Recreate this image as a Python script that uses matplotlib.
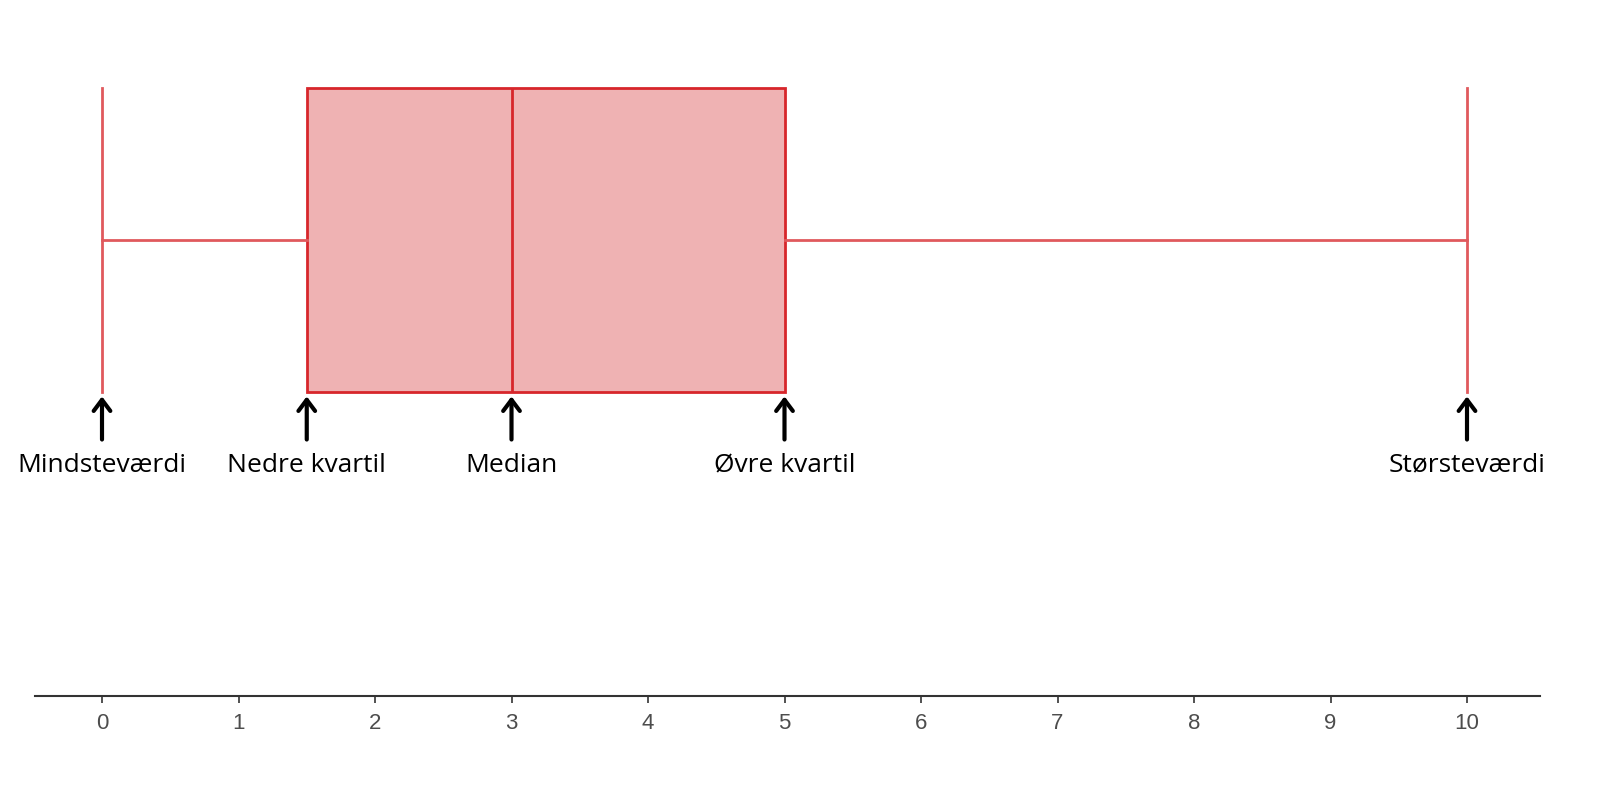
import matplotlib.pyplot as plt

# five-number summary
min_val = 0
q1 = 1.5
median = 3
q3 = 5
max_val = 10

label_values = [min_val, q1, median, q3, max_val]
label_texts = ["Mindsteværdi", "Nedre kvartil", "Median", "Øvre kvartil", "Størsteværdi"]
tick_values = list(range(0, 11))

edge_red = "#D7262B"
whisker_red = "#E0595D"
fill_red = "#EFB2B3"

fig = plt.figure(figsize=(16, 7.91), dpi=100)
# axes in pixel units: left 35, right 1540, bottom at 696 from top
ax = fig.add_axes([35 / 1600, 95 / 791, 1505 / 1600, 696 / 791])
ax.set_xlim(-67 / 136.5, 10 + 73 / 136.5)
ax.set_ylim(0, 1)

box_center = 0.655
box_height = 0.437

stats = [{"whislo": min_val, "q1": q1, "med": median, "q3": q3, "whishi": max_val}]
ax.bxp(stats, positions=[box_center], widths=box_height, capwidths=box_height,
       orientation="horizontal", patch_artist=True, showfliers=False,
       boxprops=dict(facecolor=fill_red, edgecolor=edge_red, linewidth=2),
       medianprops=dict(color=edge_red, linewidth=2),
       whiskerprops=dict(color=whisker_red, linewidth=2),
       capprops=dict(color=whisker_red, linewidth=2))

# arrows and labels under the box
y_tip = box_center - box_height / 2 - 0.006
y_tail = y_tip - 0.062
for v, t in zip(label_values, label_texts):
    ax.annotate("", xy=(v, y_tip), xytext=(v, y_tail),
                arrowprops=dict(arrowstyle="->,head_length=0.4,head_width=0.3",
                                color="black", lw=3, shrinkA=0, shrinkB=0,
                                mutation_scale=20))
    ax.text(v, 0.322, t, ha="center", va="baseline", fontsize=19,
            family="Open Sans", color="black")

ax.set_xticks(tick_values)
ax.set_xticklabels([str(t) for t in tick_values], fontsize=16,
                   family="Liberation Sans", color="#4D4D4D")
ax.tick_params(axis="x", length=5, width=1.2, color="#333333", pad=7)
ax.set_yticks([])
for s in ["top", "left", "right"]:
    ax.spines[s].set_visible(False)
ax.spines["bottom"].set_color("#333333")
ax.spines["bottom"].set_linewidth(1.5)

fig.savefig("out.png", dpi=100)
